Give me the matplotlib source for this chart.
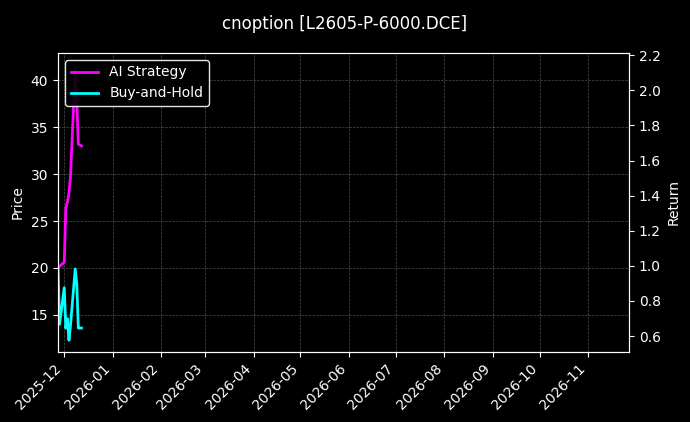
import matplotlib
matplotlib.use("Agg")
import matplotlib.pyplot as plt
import matplotlib.dates as mdates
import pandas as pd

plt.style.use("dark_background")

dates = pd.to_datetime(["2025-11-27", "2025-11-28", "2025-12-01", "2025-12-02", "2025-12-03",
                        "2025-12-04", "2025-12-05", "2025-12-08", "2025-12-09", "2025-12-10",
                        "2025-12-11", "2025-12-12"])
ai_strategy = [20.0, 20.2, 20.6, 26.4, 27.0, 28.0, 29.8, 41.3, 37.8, 33.2, 33.1, 33.0]
buy_hold = [20.0, 14.0, 17.9, 13.6, 14.6, 12.3, 13.9, 19.9, 18.3, 13.6, 13.6, 13.6]

fig = plt.figure(figsize=(6.9, 4.22), dpi=100)
ax = fig.add_axes([58/690, 1 - 352/422, (629 - 58)/690, (352 - 53)/422])
ax.plot(dates, ai_strategy, color="#ff00ff", lw=2, label="AI Strategy")
ax.plot(dates, buy_hold, color="#00ffff", lw=2, label="Buy-and-Hold")
ax.set_ylim(11.05, 42.9)
ax.set_xlim(pd.Timestamp("2025-11-27"), pd.Timestamp("2026-11-27"))
ax.set_ylabel("Price")
ax.grid(True, ls="--", lw=0.5, color="gray", alpha=0.6)
ax.xaxis.set_major_locator(mdates.MonthLocator())
ax.xaxis.set_major_formatter(mdates.DateFormatter("%Y-%m"))
plt.setp(ax.get_xticklabels(), rotation=45, ha="right")
ax.legend(loc="upper left", facecolor="black", edgecolor="white", framealpha=0.9)

ax2 = ax.twinx()
ax2.set_ylim(0.509, 2.213)
ax2.set_ylabel("Return")

fig.suptitle("cnoption [L2605-P-6000.DCE]", y=0.965, fontsize=12)
fig.savefig("out.png", dpi=100)
